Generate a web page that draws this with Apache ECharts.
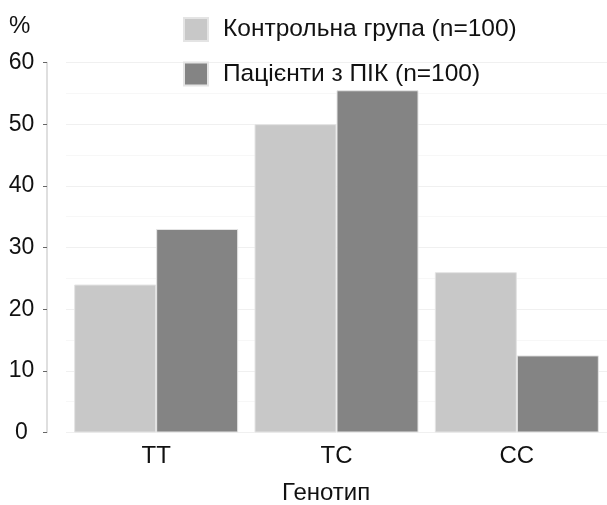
<!DOCTYPE html>
<html><head><meta charset="utf-8">
<script src="https://cdn.jsdelivr.net/npm/echarts@6/dist/echarts.min.js"></script>
<style>html,body{margin:0;padding:0;background:#fff}#c{width:607px;height:505px}</style>
</head><body><div id="c"></div>
<script>
const categories = ['TT', 'TC', 'CC'];
const seriesNames = ['Контрольна група (n=100)', 'Пацієнти з ПІК (n=100)'];
const controlValues = [24, 50, 26];
const patientValues = [33, 55.5, 12.5];
const yTicks = [0, 10, 20, 30, 40, 50, 60];

const font = 'Liberation Sans, Arial, sans-serif';
const chart = echarts.init(document.getElementById('c'), null, {renderer: 'canvas'});
chart.setOption({
  animation: false,
  backgroundColor: '#fff',
  textStyle: {fontFamily: font},
  title: [
    {text: '%', left: 9, top: 14, padding: 0, textStyle: {fontSize: 24, fontWeight: 'normal', color: '#111', fontFamily: font}},
    {text: 'Генотип', left: 282, top: 481, padding: 0, textStyle: {fontSize: 24, fontWeight: 'normal', color: '#111', fontFamily: font}}
  ],
  legend: {
    orient: 'vertical', left: 183, top: 17, itemWidth: 24, itemHeight: 23, itemGap: 19.5,
    icon: 'rect', padding: 0,
    textStyle: {fontSize: 24.5, color: '#111', fontFamily: font, padding: [0, 0, 0, 10]},
    data: seriesNames
  },
  grid: {left: 66, top: 62.5, width: 547.5, height: 370},
  xAxis: {
    type: 'category', data: categories,
    axisLine: {show: false}, axisTick: {show: false},
    axisLabel: {fontSize: 24, color: '#111', margin: 12, fontFamily: font},
    splitLine: {show: false}
  },
  yAxis: {
    type: 'value', min: yTicks[0], max: yTicks[yTicks.length - 1], interval: 10,
    offset: 19,
    axisLine: {show: true, lineStyle: {color: '#d4d4d4', width: 1.5}},
    axisTick: {show: true, length: 4, lineStyle: {color: '#666'}},
    axisLabel: {fontSize: 23, color: '#111', margin: 25.5, align: 'center', fontFamily: font, padding: [2, 0, 0, 0]},
    splitLine: {show: true, lineStyle: {color: '#f0f0f0', width: 1}},
    minorTick: {show: false, splitNumber: 2},
    minorSplitLine: {show: true, lineStyle: {color: '#f7f7f7', width: 1}}
  },
  series: [
    {name: seriesNames[0], type: 'bar', data: controlValues, barWidth: 82, barGap: '0%',
     itemStyle: {color: '#c8c8c8', borderColor: '#e4e4e4', borderWidth: 1}},
    {name: seriesNames[1], type: 'bar', data: patientValues, barWidth: 82,
     itemStyle: {color: '#848484', borderColor: '#e4e4e4', borderWidth: 1}}
  ]
});
</script></body></html>
